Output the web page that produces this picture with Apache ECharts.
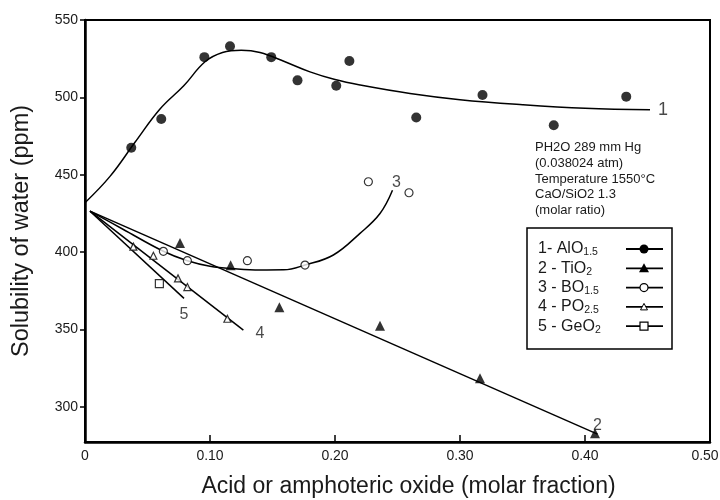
<!DOCTYPE html>
<html>
<head>
<meta charset="utf-8">
<title>Solubility of water vs. oxide fraction</title>
<script src="https://cdn.jsdelivr.net/npm/echarts@6/dist/echarts.min.js"></script>
<style>
  html, body { margin: 0; padding: 0; background: #fff; }
  #chart { width: 720px; height: 500px; }
</style>
</head>
<body>
<div id="chart"></div>
<script>
// ---- measured points (x: molar fraction, y: ppm) ----
const alX = [0.037, 0.061, 0.0955, 0.116, 0.149, 0.170, 0.201, 0.2115, 0.265, 0.318, 0.375, 0.433];
const alY = [467.5, 486, 526, 533, 526, 511, 507.5, 523.5, 487, 501.5, 482, 500.5];

const tiX = [0.076, 0.1165, 0.1555, 0.236, 0.316, 0.408];
const tiY = [406, 391.5, 364.5, 352.5, 318.5, 283];

const boX = [0.0627, 0.0819, 0.1299, 0.176, 0.2267, 0.2592];
const boY = [400.6, 394.5, 394.5, 391.7, 445.5, 438.4];

const poX = [0.0387, 0.0547, 0.0744, 0.0819, 0.1139];
const poY = [403.6, 397.7, 383.1, 377.5, 357];

const geX = [0.0595];
const geY = [379.7];

// ---- fitted curves ----
const fit1X = [0, 0.02, 0.04, 0.06, 0.079, 0.096, 0.11, 0.125, 0.14, 0.16, 0.18, 0.20, 0.22, 0.26, 0.30, 0.35, 0.40, 0.452];
const fit1Y = [432, 449, 471, 492.5, 507.5, 523, 529, 530.5, 529, 523, 516.5, 511.5, 508, 502.5, 498.5, 495.3, 493, 492];

const fit2X = [0.004, 0.41];
const fit2Y = [426.5, 282.5];

const fit3X = [0.004, 0.03, 0.0627, 0.0819, 0.10, 0.12, 0.14, 0.159, 0.176, 0.1987, 0.22, 0.236, 0.246];
const fit3Y = [426.5, 415, 400.6, 394.5, 391, 389.3, 388.5, 388.6, 391.7, 398.2, 412.2, 425, 440];

const fit4X = [0.004, 0.1267];
const fit4Y = [426.5, 349.7];

const fit5X = [0.004, 0.0792];
const fit5Y = [426.5, 370.2];

// curve numbers, attached to the end of each curve
const tagText = ['1', '2', '3', '4', '5'];
const tagX = [0.452, 0.41, 0.246, 0.1267, 0.0792];
const tagY = [492, 282.5, 440, 349.7, 370.2];

// ---- axis ticks ----
const xTicks = [0, 0.1, 0.2, 0.3, 0.4, 0.5];
const yTicks = [300, 350, 400, 450, 500, 550];

// ---- legend entries (number, base formula, subscript) ----
const legendNum = ['1-', '2 -', '3 -', '4 -', '5 -'];
const legendBase = ['AlO', 'TiO', 'BO', 'PO', 'GeO'];
const legendSub = ['1.5', '2', '1.5', '2.5', '2'];

const notes = ['PH2O 289 mm Hg', '(0.038024 atm)', 'Temperature 1550\u00B0C', 'CaO/SiO2 1.3', '(molar ratio)'];

const FONT = '"Liberation Sans", Arial, Helvetica, sans-serif';
const INK = '#1a1a1a';

const zip = (xs, ys) => xs.map((x, i) => [x, ys[i]]);

function curve(xs, ys, smooth) {
  return {
    type: 'line', data: zip(xs, ys), smooth: smooth,
    showSymbol: false, silent: true,
    lineStyle: { color: '#000', width: 1.5 }, z: 2, animation: false
  };
}

function points(xs, ys, symbol, size, filled) {
  return {
    type: 'scatter', data: zip(xs, ys), symbol: symbol, symbolSize: size, z: 4,
    itemStyle: filled ? { color: '#000' } : { color: '#fff', borderColor: '#000', borderWidth: 1.2 },
    animation: false
  };
}

// placement of each curve number around its curve end
const tagPlace = [
  { position: 'right', distance: 8, fontSize: 18 },
  { position: 'top', distance: 1 },
  { position: 'top', distance: 0, offset: [4, 0] },
  { position: 'right', distance: 12, offset: [0, 4] },
  { position: 'bottom', distance: 8 }
];

const tagSeries = {
  type: 'scatter', symbolSize: 0, z: 5, silent: true, animation: false,
  data: tagText.map((t, i) => ({
    value: [tagX[i], tagY[i]],
    label: Object.assign({ show: true, formatter: t, color: INK, fontSize: 16, fontFamily: FONT }, tagPlace[i])
  }))
};

// legend drawn as graphic rows
const LX = 527, LY = 228, LW = 145, LH = 121, ROW0 = 249, ROWGAP = 19.3;
const markerShapes = [
  (cx, cy) => ({ type: 'circle', shape: { cx, cy, r: 4.5 }, style: { fill: '#000' } }),
  (cx, cy) => ({ type: 'polygon', shape: { points: [[cx, cy - 5], [cx + 5, cy + 4], [cx - 5, cy + 4]] }, style: { fill: '#000' } }),
  (cx, cy) => ({ type: 'circle', shape: { cx, cy, r: 4 }, style: { fill: '#fff', stroke: '#000', lineWidth: 1.2 } }),
  (cx, cy) => ({ type: 'polygon', shape: { points: [[cx, cy - 3.5], [cx + 3.5, cy + 3], [cx - 3.5, cy + 3]] }, style: { fill: '#fff', stroke: '#000', lineWidth: 1 } }),
  (cx, cy) => ({ type: 'rect', shape: { x: cx - 4, y: cy - 4, width: 8, height: 8 }, style: { fill: '#fff', stroke: '#000', lineWidth: 1.2 } })
];

const legendChildren = [
  { type: 'rect', shape: { x: LX, y: LY, width: LW, height: LH }, style: { fill: '#fff', stroke: '#000', lineWidth: 1.5 } }
];
legendNum.forEach((n, i) => {
  const cy = ROW0 + i * ROWGAP;
  legendChildren.push({
    type: 'text', x: 538, y: cy,
    style: {
      text: '{m|' + n + ' ' + legendBase[i] + '}{s|' + legendSub[i] + '}',
      verticalAlign: 'middle', fill: INK,
      rich: {
        m: { fontSize: 16, fontFamily: FONT, lineHeight: 18, fill: INK },
        s: { fontSize: 10.5, fontFamily: FONT, lineHeight: 10, verticalAlign: 'bottom', fill: INK }
      }
    }
  });
  legendChildren.push({ type: 'line', shape: { x1: 626, y1: cy, x2: 663, y2: cy }, style: { stroke: '#000', lineWidth: 1.8 } });
  legendChildren.push(markerShapes[i](644, cy));
});

const xMax = xTicks[xTicks.length - 1];

const chart = echarts.init(document.getElementById('chart'), null, { renderer: 'canvas' });

chart.setOption({
  animation: false,
  backgroundColor: '#fff',
  grid: {
    left: 85, right: 10, top: 20, bottom: 58, outerBoundsMode: 'none', containLabel: false,
    show: true, borderColor: '#000', borderWidth: 2, backgroundColor: 'transparent'
  },
  xAxis: {
    type: 'value', min: xTicks[0], max: xMax, interval: 0.1,
    name: 'Acid or amphoteric oxide (molar fraction)', nameLocation: 'middle', nameGap: 33,
    nameTextStyle: { fontSize: 23, fontFamily: FONT, color: INK, padding: [0, 0, 0, 22] },
    axisLine: { show: true, onZero: false, lineStyle: { color: '#000', width: 2.5 } },
    axisTick: { show: true, inside: true, length: 7, customValues: xTicks, lineStyle: { color: '#000', width: 1.5 } },
    axisLabel: {
      fontSize: 14, fontFamily: FONT, color: INK, margin: 7, customValues: xTicks,
      formatter: v => (v === 0 ? '0' : (Math.abs(v - xMax) < 1e-9 ? '{e|' + v.toFixed(2) + '}' : v.toFixed(2))),
      rich: { e: { fontSize: 14, fontFamily: FONT, color: INK, padding: [0, 10, 0, 0] } }
    },
    splitLine: { show: false }
  },
  yAxis: {
    type: 'value', min: 277.4, max: 550,
    name: 'Solubility of water (ppm)', nameLocation: 'middle', nameGap: 51,
    nameTextStyle: { fontSize: 23.5, fontFamily: FONT, color: INK },
    axisLine: { show: true, onZero: false, lineStyle: { color: '#000', width: 2.5 } },
    axisTick: { show: true, inside: false, length: 5, customValues: yTicks, lineStyle: { color: '#000', width: 1.5 } },
    axisLabel: { fontSize: 14, fontFamily: FONT, color: INK, margin: 7, customValues: yTicks },
    splitLine: { show: false }
  },
  series: [
    curve(fit1X, fit1Y, 0.4),
    curve(fit2X, fit2Y, false),
    curve(fit3X, fit3Y, 0.4),
    curve(fit4X, fit4Y, false),
    curve(fit5X, fit5Y, false),
    points(alX, alY, 'circle', 10, true),
    points(tiX, tiY, 'triangle', 10, true),
    points(boX, boY, 'circle', 8, false),
    points(poX, poY, 'triangle', 7, false),
    points(geX, geY, 'rect', 8, false),
    tagSeries
  ],
  graphic: [
    {
      type: 'text', left: 535, top: 140, z: 10,
      style: { text: notes.join('\n'), font: '13px ' + FONT, lineHeight: 15.6, fill: INK }
    },
    { type: 'group', z: 10, children: legendChildren }
  ]
});
</script>
</body>
</html>
